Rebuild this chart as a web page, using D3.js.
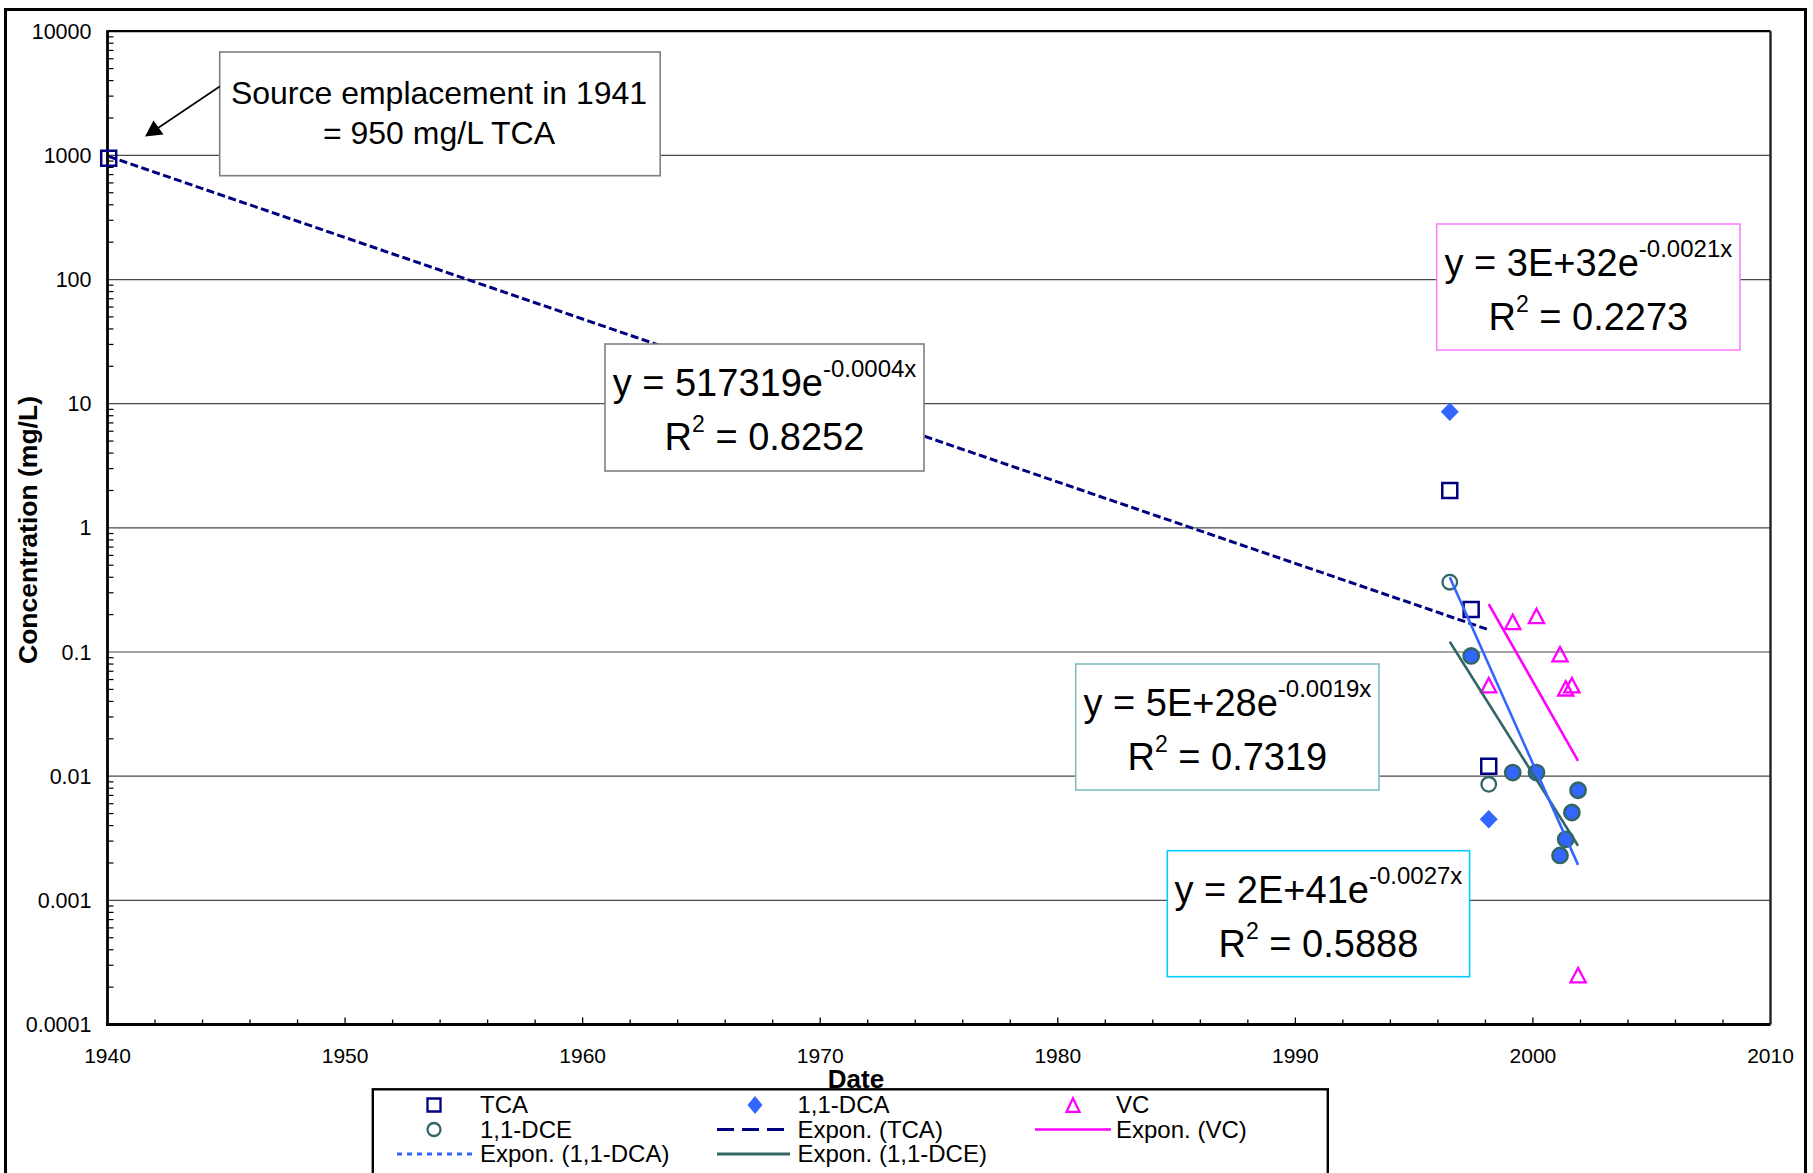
<!DOCTYPE html>
<html>
<head>
<meta charset="utf-8">
<script src="https://cdn.jsdelivr.net/npm/d3@7"></script>
<style>
body { margin: 0; background: #fff; }
text { font-family: "Liberation Sans", Arial, sans-serif; fill: #000; }
</style>
</head>
<body>
<svg id="chart" width="1813" height="1173"></svg>
<script>
// sample data (decimal years, mg/L)
var tcaDates = [1940.05, 1996.5, 1997.4, 1998.14];
var tcaConc = [950, 2.0, 0.22, 0.012];
var dcaDates = [1996.5, 1998.14];
var dcaConc = [8.6, 0.0045];
var dceDates = [1996.5, 1998.14];
var dceConc = [0.365, 0.0086];
// samples where 1,1-DCA and 1,1-DCE plot on top of each other
var dcaDceDates = [1997.4, 1999.15, 2000.15, 2001.14, 2001.38, 2001.64, 2001.9];
var dcaDceConc = [0.093, 0.0107, 0.0107, 0.0023, 0.0031, 0.0051, 0.0077];
var vcDates = [1998.14, 1999.15, 2000.15, 2001.14, 2001.38, 2001.64, 2001.9];
var vcConc = [0.054, 0.175, 0.195, 0.096, 0.051, 0.054, 0.00025];

// exponential trend lines, first and last point
var tcaTrendDates = [1940.05, 1998.14];
var tcaTrendConc = [980, 0.151];
var dcaTrendDates = [1996.5, 2001.9];
var dcaTrendConc = [0.40, 0.00193];
var dceTrendDates = [1996.5, 2001.9];
var dceTrendConc = [0.121, 0.00275];
var vcTrendDates = [1998.14, 2001.9];
var vcTrendConc = [0.243, 0.0133];

// trend equations
var fitNames = ["TCA", "VC", "1,1-DCE", "1,1-DCA"];
var fitCoef = ["517319", "3E+32", "5E+28", "2E+41"];
var fitRate = ["-0.0004x", "-0.0021x", "-0.0019x", "-0.0027x"];
var fitR2 = ["0.8252", "0.2273", "0.7319", "0.5888"];

var yTicks = [0.0001, 0.001, 0.01, 0.1, 1, 10, 100, 1000, 10000];
var yTickLabels = ["0.0001", "0.001", "0.01", "0.1", "1", "10", "100", "1000", "10000"];
var xTicks = [1940, 1950, 1960, 1970, 1980, 1990, 2000, 2010];

var legendLabels = ["TCA", "1,1-DCA", "VC", "1,1-DCE", "Expon. (TCA)", "Expon. (VC)", "Expon. (1,1-DCA)", "Expon. (1,1-DCE)"];

var NAVY = "#000080", BLUE = "#3366FF", TEAL = "#336666", MAGENTA = "#FF00FF";

var svg = d3.select("#chart");
svg.append("rect").attr("width", 1813).attr("height", 1173).attr("fill", "#fff");

var x = d3.scaleLinear().domain([1940, 2010]).range([107.5, 1770.5]);
var y = d3.scaleLog().domain([0.0001, 10000]).range([1024.5, 31.2]);

// gridlines
svg.append("g").selectAll("line").data(yTicks.slice(1, -1)).enter().append("line")
	.attr("x1", x(1940)).attr("x2", x(2010))
	.attr("y1", function (d) { return y(d); }).attr("y2", function (d) { return y(d); })
	.attr("stroke", "#4a4a4a").attr("stroke-width", 1.2);

// minor ticks on the y axis (inside)
var yMinor = [];
for (var e = -4; e < 4; e++) {
	for (var m = 2; m <= 9; m++) yMinor.push(m * Math.pow(10, e));
}
svg.append("g").selectAll("line").data(yMinor).enter().append("line")
	.attr("x1", x(1940)).attr("x2", x(1940) + 6)
	.attr("y1", function (d) { return y(d); }).attr("y2", function (d) { return y(d); })
	.attr("stroke", "#000").attr("stroke-width", 1.2);

// x ticks every 2 years (inside)
var xMinor = d3.range(1942, 2010, 2);
svg.append("g").selectAll("line").data(xMinor).enter().append("line")
	.attr("x1", function (d) { return x(d); }).attr("x2", function (d) { return x(d); })
	.attr("y1", y(0.0001)).attr("y2", function (d) { return y(0.0001) - (d % 10 === 0 ? 7 : 5); })
	.attr("stroke", "#000").attr("stroke-width", 1.3);

// plot frame
svg.append("line").attr("x1", x(1940)).attr("x2", x(2010)).attr("y1", y(10000)).attr("y2", y(10000))
	.attr("stroke", "#000").attr("stroke-width", 2.2);
svg.append("line").attr("x1", x(2010)).attr("x2", x(2010)).attr("y1", y(10000)).attr("y2", y(0.0001))
	.attr("stroke", "#222").attr("stroke-width", 2.4);
svg.append("line").attr("x1", x(1940)).attr("x2", x(1940)).attr("y1", y(10000) - 1).attr("y2", y(0.0001) + 1.5)
	.attr("stroke", "#000").attr("stroke-width", 2.8);
svg.append("line").attr("x1", x(1940) - 1.4).attr("x2", x(2010)).attr("y1", y(0.0001)).attr("y2", y(0.0001))
	.attr("stroke", "#000").attr("stroke-width", 3);

// tick labels
svg.append("g").selectAll("text").data(yTicks).enter().append("text")
	.attr("x", 91.5).attr("y", function (d) { return y(d) + 7.5; })
	.attr("text-anchor", "end").style("font-size", "21.5px")
	.text(function (d, i) { return yTickLabels[i]; });

svg.append("g").selectAll("text").data(xTicks).enter().append("text")
	.attr("x", function (d) { return x(d); }).attr("y", 1063)
	.attr("text-anchor", "middle").style("font-size", "21px")
	.text(function (d) { return d; });

// axis titles
svg.append("text").attr("x", 856).attr("y", 1088)
	.attr("text-anchor", "middle").style("font-size", "26px").style("font-weight", "bold")
	.text("Date");
svg.append("text").attr("transform", "translate(36.5,530) rotate(-90)")
	.attr("text-anchor", "middle").style("font-size", "26.5px").style("font-weight", "bold")
	.text("Concentration (mg/L)");

// marker shapes
function squarePath(s) { return "M" + (-s) + "," + (-s) + "H" + s + "V" + s + "H" + (-s) + "Z"; }
function diamondPath(w, h) { return "M0," + (-h) + "L" + w + ",0L0," + h + "L" + (-w) + ",0Z"; }
function trianglePath(w, h) { return "M0," + (-h) + "L" + w + "," + h + "L" + (-w) + "," + h + "Z"; }

function zip(dates, conc) {
	return dates.map(function (d, i) { return [d, conc[i]]; });
}

function drawMarkers(data, path, fill, stroke, width) {
	svg.append("g").selectAll("path").data(data).enter().append("path")
		.attr("d", path)
		.attr("transform", function (d) { return "translate(" + x(d[0]) + "," + y(d[1]) + ")"; })
		.attr("fill", fill).attr("stroke", stroke).attr("stroke-width", width);
}

drawMarkers(zip(tcaDates, tcaConc), squarePath(7.5), "none", NAVY, 2.5);
drawMarkers(zip(dcaDates, dcaConc), diamondPath(9, 9.2), BLUE, "none", 0);
drawMarkers(zip(vcDates, vcConc), trianglePath(7.6, 7.2), "none", MAGENTA, 2.3);

svg.append("g").selectAll("circle").data(zip(dceDates, dceConc)).enter().append("circle")
	.attr("cx", function (d) { return x(d[0]); }).attr("cy", function (d) { return y(d[1]); })
	.attr("r", 7.3).attr("fill", "none").attr("stroke", TEAL).attr("stroke-width", 2.3);
svg.append("g").selectAll("circle").data(zip(dcaDceDates, dcaDceConc)).enter().append("circle")
	.attr("cx", function (d) { return x(d[0]); }).attr("cy", function (d) { return y(d[1]); })
	.attr("r", 7.6).attr("fill", BLUE).attr("stroke", TEAL).attr("stroke-width", 2.6);

// trend lines
var line = d3.line().x(function (d) { return x(d[0]); }).y(function (d) { return y(d[1]); });
function drawTrend(data, color, width, dash) {
	svg.append("path").datum(data).attr("d", line)
		.attr("fill", "none").attr("stroke", color).attr("stroke-width", width)
		.attr("stroke-dasharray", dash);
}
drawTrend(zip(tcaTrendDates, tcaTrendConc), NAVY, 3, "8,3.5");
drawTrend(zip(dceTrendDates, dceTrendConc), TEAL, 2.6, null);
drawTrend(zip(dcaTrendDates, dcaTrendConc), BLUE, 2.6, null);
drawTrend(zip(vcTrendDates, vcTrendConc), MAGENTA, 2.6, null);

// source annotation
svg.append("rect").attr("x", 219.7).attr("y", 52).attr("width", 440.5).attr("height", 123.7)
	.attr("fill", "#fff").attr("stroke", "#7f7f7f").attr("stroke-width", 1.6);
svg.append("text").attr("x", 439).attr("y", 104).attr("text-anchor", "middle")
	.style("font-size", "32px").text("Source emplacement in 1941");
svg.append("text").attr("x", 439).attr("y", 143.5).attr("text-anchor", "middle")
	.style("font-size", "32px").text("= 950 mg/L TCA");
svg.append("line").attr("x1", 219.7).attr("y1", 86.5).attr("x2", 158).attr("y2", 128)
	.attr("stroke", "#000").attr("stroke-width", 1.6);
svg.append("path").attr("d", "M145,136.5L153.5,120.5L163.5,134.5Z").attr("fill", "#000");

// equation boxes
var boxes = [
	{ x: 605, y: 344, w: 319, h: 127, stroke: "#808080" },
	{ x: 1436.7, y: 224, w: 303.3, h: 126, stroke: "#FF80FF" },
	{ x: 1075.7, y: 664, w: 303.3, h: 126, stroke: "#7FBFBF" },
	{ x: 1167.3, y: 850.7, w: 302.3, h: 126, stroke: "#00CCFF" }
];
fitNames.forEach(function (name, i) {
	var b = boxes[i];
	var g = svg.append("g").attr("class", "fit " + name);
	g.append("rect").attr("x", b.x).attr("y", b.y).attr("width", b.w).attr("height", b.h)
		.attr("fill", "#fff").attr("stroke", b.stroke).attr("stroke-width", 1.6);
	var t1 = g.append("text").attr("x", b.x + b.w / 2).attr("y", b.y + 52)
		.attr("text-anchor", "middle").style("font-size", "38px");
	t1.append("tspan").text("y = " + fitCoef[i] + "e");
	t1.append("tspan").attr("dy", -19).style("font-size", "24px").text(fitRate[i]);
	var t2 = g.append("text").attr("x", b.x + b.w / 2).attr("y", b.y + 106)
		.attr("text-anchor", "middle").style("font-size", "38px");
	t2.append("tspan").text("R");
	t2.append("tspan").attr("dy", -18).style("font-size", "23px").text("2");
	t2.append("tspan").attr("dy", 18).text(" = " + fitR2[i]);
});

// legend
var lg = svg.append("g");
lg.append("rect").attr("x", 372.8).attr("y", 1089.3).attr("width", 955).attr("height", 140)
	.attr("fill", "#fff").attr("stroke", "#000").attr("stroke-width", 2.4);
var rowY = [1105, 1129.5, 1154];
var symX = [434, 755, 1073];
var textX = [480, 797.5, 1116];
var lineX = [[397, 472], [717, 790], [1035, 1111]];
var legendKinds = [
	{ col: 0, row: 0, mark: "square" }, { col: 1, row: 0, mark: "diamond" }, { col: 2, row: 0, mark: "triangle" },
	{ col: 0, row: 1, mark: "circle" }, { col: 1, row: 1, line: NAVY, dash: "17,8", w: 3 },
	{ col: 2, row: 1, line: MAGENTA, dash: null, w: 2.6 },
	{ col: 0, row: 2, line: BLUE, dash: "5,5", w: 3 }, { col: 1, row: 2, line: TEAL, dash: null, w: 3 }
];
legendKinds.forEach(function (k, i) {
	var cx = symX[k.col], cy = rowY[k.row];
	if (k.mark === "square") {
		lg.append("path").attr("d", squarePath(6.5)).attr("transform", "translate(" + cx + "," + cy + ")")
			.attr("fill", "none").attr("stroke", NAVY).attr("stroke-width", 2.3);
	} else if (k.mark === "diamond") {
		lg.append("path").attr("d", diamondPath(7.5, 9)).attr("transform", "translate(" + cx + "," + cy + ")")
			.attr("fill", BLUE);
	} else if (k.mark === "triangle") {
		lg.append("path").attr("d", trianglePath(6.5, 6.8)).attr("transform", "translate(" + cx + "," + cy + ")")
			.attr("fill", "none").attr("stroke", MAGENTA).attr("stroke-width", 2.3);
	} else if (k.mark === "circle") {
		lg.append("circle").attr("cx", cx).attr("cy", cy).attr("r", 6.5)
			.attr("fill", "none").attr("stroke", TEAL).attr("stroke-width", 2.3);
	} else {
		lg.append("line").attr("x1", lineX[k.col][0]).attr("x2", lineX[k.col][1])
			.attr("y1", cy).attr("y2", cy)
			.attr("stroke", k.line).attr("stroke-width", k.w).attr("stroke-dasharray", k.dash);
	}
	lg.append("text").attr("x", textX[k.col]).attr("y", cy + 8).style("font-size", "24px")
		.text(legendLabels[i]);
});

// outer frame
svg.append("rect").attr("x", 5.5).attr("y", 9.5).attr("width", 1800).attr("height", 1300)
	.attr("fill", "none").attr("stroke", "#000").attr("stroke-width", 3);
</script>
</body>
</html>
